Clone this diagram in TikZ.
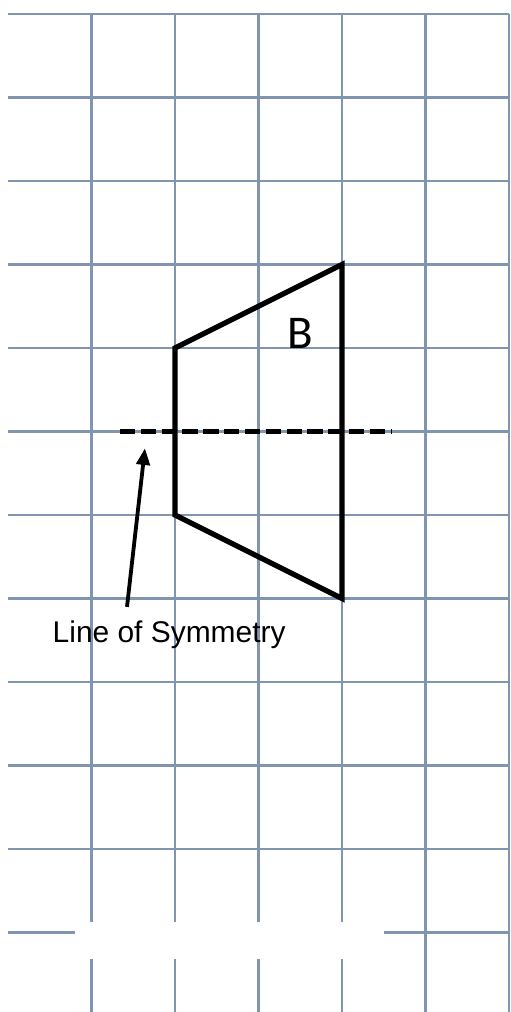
\documentclass[tikz,border=0pt]{standalone}
\usepackage{fontspec}
\setmainfont{Liberation Sans}
\newfontfamily\letterfont{Carlito}
\usepackage{tikz}
\usetikzlibrary{arrows.meta,positioning,calc}
\definecolor{gridblue}{HTML}{8195B0}
\definecolor{inkblack}{HTML}{000000}
\tikzset{
  gridln/.style={draw=gridblue, line width=.85pt},
  shapeln/.style={draw=inkblack, line width=1.8pt, line join=miter},
  symln/.style={draw=inkblack, line width=2pt, dash pattern=on 5.2pt off 1.9pt},
  ar/.style={-{Triangle[length=2mm, width=1.6mm]}, line width=1.3pt, draw=inkblack},
  lbl/.style={font=\fontsize{10.2pt}{12pt}\selectfont, inner sep=0pt},
  letter/.style={font=\letterfont\fontsize{16pt}{18pt}\selectfont, inner sep=0pt},
}
\begin{document}
\begin{tikzpicture}
        \useasboundingbox (-0.096,0.168) rectangle (6.012,-11.952);
        % grid
        \foreach \y in {0,...,10}{
          \draw[gridln] (0,-\y) -- (6,-\y);
        }
        \draw[gridln] (0,-11) -- (0.8,-11);
        \draw[gridln] (4.5,-11) -- (6,-11);
        \foreach \x in {1,...,4}{
          \draw[gridln] (\x,0) -- (\x,-10.87);
          \draw[gridln] (\x,-11.32) -- (\x,-11.952);
        }
        \foreach \x in {5,6}{
          \draw[gridln] (\x,0) -- (\x,-11.952);
        }
        % shape B
        \coordinate (p1) at (2,-4);
        \coordinate (p2) at (4,-3);
        \coordinate (p3) at (4,-7);
        \coordinate (p4) at (2,-6);
        \draw[shapeln] (p1) -- (p2) -- (p3) -- (p4) -- cycle;
        \node[letter] (lblB) at (3.5,-3.83) {B};
        % line of symmetry
        \coordinate (symL) at (1.34,-5);
        \coordinate (symR) at (4.59,-5);
        \draw[symln] (symL) -- (symR);
        \node[lbl, anchor=base] (symtxt) at (1.93,-7.53) {Line of Symmetry};
        \coordinate (tail) at (1.425,-7.10);
        \coordinate (tip) at (1.64,-5.2);
        \draw[ar] (tail) -- (tip);
      \end{tikzpicture}
\end{document}
